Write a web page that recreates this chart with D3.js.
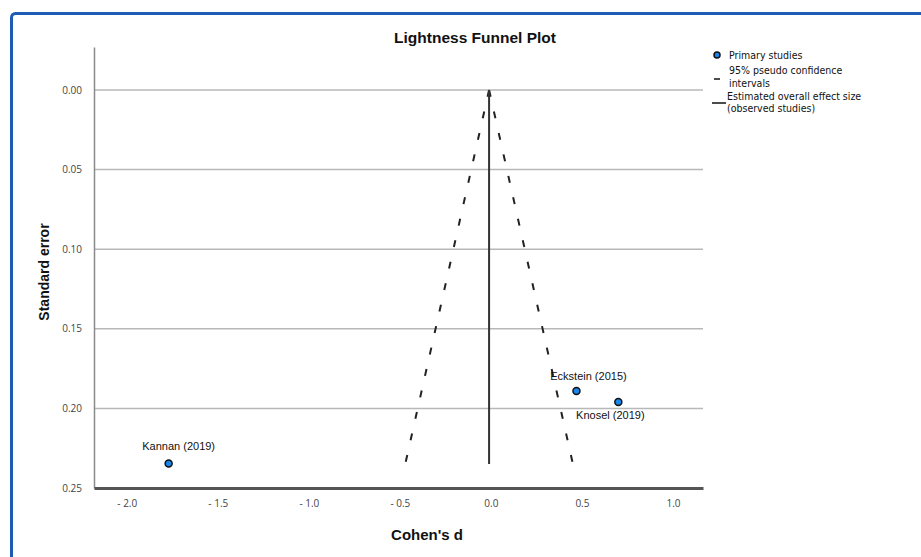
<!DOCTYPE html>
<html>
<head>
<meta charset="utf-8">
<script src="https://cdn.jsdelivr.net/npm/d3@7"></script>
<style>
  body { margin: 0; background: #fff; }
  svg { display: block; }
</style>
</head>
<body>
<div id="chart"></div>
<script>
// study data: Cohen's d and standard error
var studies = ["Kannan (2019)", "Eckstein (2015)", "Knosel (2019)"];
var cohensD = [-1.77, 0.47, 0.70];
var stdErr = [0.2346, 0.189, 0.196];

var xTicks = [-2.0, -1.5, -1.0, -0.5, 0.0, 0.5, 1.0];
var yTicks = [0.00, 0.05, 0.10, 0.15, 0.20, 0.25];

// overall effect and pseudo CI funnel
var overallEffect = -0.01;
var funnelMaxSE = 0.235;

var width = 921, height = 557;

var svg = d3.select("#chart").append("svg")
    .attr("width", width)
    .attr("height", height);

// blue frame
svg.append("rect")
    .attr("x", 11.5).attr("y", 13.5)
    .attr("width", 940).attr("height", 600)
    .attr("rx", 4)
    .attr("fill", "none")
    .attr("stroke", "#1d5cb4")
    .attr("stroke-width", 3);

var x = d3.scaleLinear().domain([-2.18, 1.165]).range([94, 703]);
var y = d3.scaleLinear().domain([-0.027, 0.25]).range([47, 488]);

// gridlines
svg.append("g")
    .selectAll("line")
    .data(yTicks.slice(0, -1))
    .join("line")
    .attr("x1", x.range()[0]).attr("x2", x.range()[1])
    .attr("y1", d => y(d)).attr("y2", d => y(d))
    .attr("stroke", "#b8b8b8")
    .attr("stroke-width", 1.5);

// y axis
var yAxis = svg.append("g")
    .attr("transform", "translate(" + x.range()[0] + ",0)")
    .call(d3.axisLeft(y).tickValues(yTicks).tickFormat(d3.format(".2f")).tickSize(0).tickPadding(12));
yAxis.select(".domain").attr("stroke", "#8a8a8a").attr("stroke-width", 1.5);
yAxis.selectAll("text")
    .style("font-family", "'Open Sans', sans-serif")
    .style("font-size", "10px")
    .attr("fill", "#444");

// x axis
var xAxis = svg.append("g")
    .attr("transform", "translate(0," + y.range()[1] + ")")
    .call(d3.axisBottom(x).tickValues(xTicks)
        .tickFormat(d => d < 0 ? "- " + d3.format(".1f")(-d) : d3.format(".1f")(d))
        .tickSize(0).tickPadding(12));
xAxis.select(".domain").attr("stroke", "#555").attr("stroke-width", 3);
xAxis.selectAll("text")
    .style("font-family", "'Open Sans', sans-serif")
    .style("font-size", "10px")
    .attr("fill", "#444");

// funnel dashed lines
var funnel = svg.append("g");
[-1, 1].forEach(function (s) {
    funnel.append("line")
        .attr("x1", x(overallEffect)).attr("y1", y(0))
        .attr("x2", x(overallEffect + s * 1.96 * funnelMaxSE)).attr("y2", y(funnelMaxSE))
        .attr("stroke", "#222")
        .attr("stroke-width", 2)
        .attr("stroke-dasharray", "7,15");
});

// overall effect line
svg.append("line")
    .attr("x1", x(overallEffect)).attr("x2", x(overallEffect))
    .attr("y1", y(0)).attr("y2", y(funnelMaxSE))
    .attr("stroke", "#333")
    .attr("stroke-width", 2);

// points
svg.append("g")
    .selectAll("circle")
    .data(studies)
    .join("circle")
    .attr("cx", (d, i) => x(cohensD[i]))
    .attr("cy", (d, i) => y(stdErr[i]))
    .attr("r", 3.5)
    .attr("fill", "#1a86ec")
    .attr("stroke", "#111")
    .attr("stroke-width", 1.5);

// point labels
var labelOffsets = [[10, -13, "middle"], [12, -11, "middle"], [-8, 17, "middle"]];
svg.append("g")
    .selectAll("text")
    .data(studies)
    .join("text")
    .attr("x", (d, i) => x(cohensD[i]) + labelOffsets[i][0])
    .attr("y", (d, i) => y(stdErr[i]) + labelOffsets[i][1])
    .attr("text-anchor", (d, i) => labelOffsets[i][2])
    .style("font-family", "'Liberation Sans', Arial, sans-serif")
    .style("font-size", "11px")
    .attr("fill", "#111")
    .text(d => d);

// title
svg.append("text")
    .attr("x", 475).attr("y", 43)
    .attr("text-anchor", "middle")
    .style("font-family", "'Liberation Sans', Arial, sans-serif")
    .style("font-size", "15.5px")
    .style("font-weight", "bold")
    .attr("fill", "#111")
    .text("Lightness Funnel Plot");

// axis titles
svg.append("text")
    .attr("transform", "translate(49,272) rotate(-90)")
    .attr("text-anchor", "middle")
    .style("font-family", "'Liberation Sans', Arial, sans-serif")
    .style("font-size", "14px")
    .style("font-weight", "bold")
    .attr("fill", "#111")
    .text("Standard error");

svg.append("text")
    .attr("x", 427).attr("y", 540)
    .attr("text-anchor", "middle")
    .style("font-family", "'Liberation Sans', Arial, sans-serif")
    .style("font-size", "15px")
    .style("font-weight", "bold")
    .attr("fill", "#111")
    .text("Cohen's d");

// legend
var legend = svg.append("g").attr("transform", "translate(717,0)");
var lgFont = "'DejaVu Sans Condensed', 'DejaVu Sans', sans-serif";
legend.append("circle")
    .attr("cx", 0).attr("cy", 55).attr("r", 3)
    .attr("fill", "#1a86ec").attr("stroke", "#111").attr("stroke-width", 1.5);
legend.append("line")
    .attr("x1", -3).attr("x2", 3).attr("y1", 79).attr("y2", 79)
    .attr("stroke", "#111").attr("stroke-width", 1.5);
legend.append("line")
    .attr("x1", -5).attr("x2", 9).attr("y1", 103).attr("y2", 103)
    .attr("stroke", "#111").attr("stroke-width", 1.5);

var legendLines = [
    [59, "Primary studies"],
    [74, "95% pseudo confidence"],
    [86.5, "intervals"],
    [99.5, "Estimated overall effect size"],
    [112, "(observed studies)"]
];
legend.selectAll("text.lg")
    .data(legendLines)
    .join("text")
    .attr("class", "lg")
    .attr("x", d => d[1] === "Estimated overall effect size" || d[1] === "(observed studies)" ? 10 : 12)
    .attr("y", d => d[0])
    .style("font-family", lgFont)
    .style("font-size", "10.5px")
    .attr("fill", "#111")
    .text(d => d[1]);
</script>
</body>
</html>
